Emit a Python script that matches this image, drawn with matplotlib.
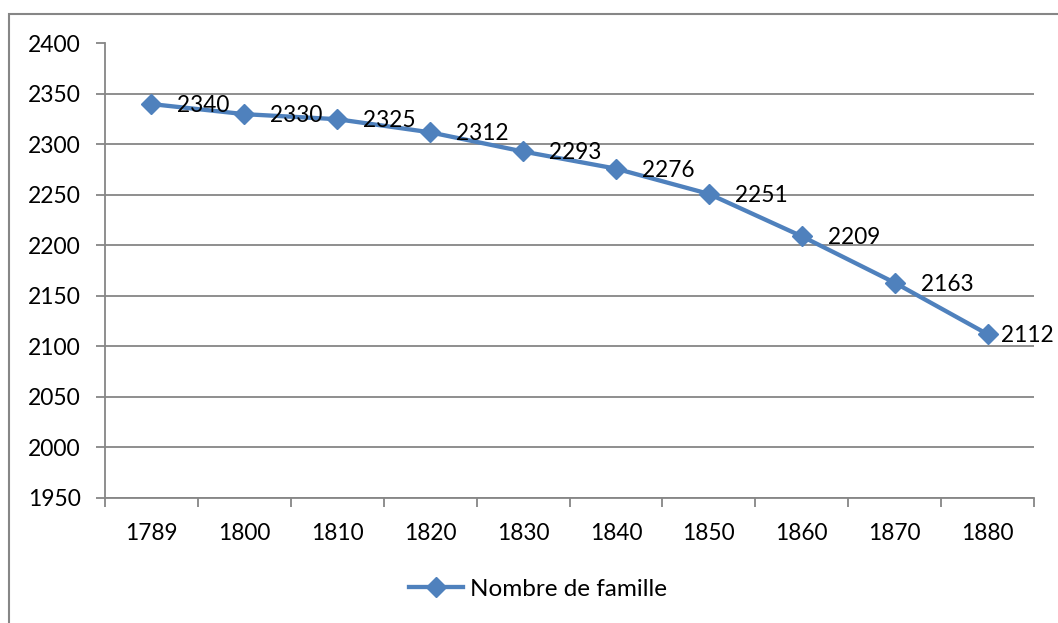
import matplotlib
matplotlib.use("Agg")
import matplotlib.pyplot as plt
from matplotlib.patches import Rectangle
from matplotlib.lines import Line2D
import numpy as np

categories = ["1789", "1800", "1810", "1820", "1830", "1840", "1850", "1860", "1870", "1880"]
values = [2340, 2330, 2325, 2312, 2293, 2276, 2251, 2209, 2163, 2112]
series_name = "Nombre de famille"
y_ticks = [1950, 2000, 2050, 2100, 2150, 2200, 2250, 2300, 2350, 2400]

plt.rcParams['font.family'] = ['Lato', 'DejaVu Sans']
BLUE = "#4F81BD"
GRID = "#868686"

W, H = 1058, 623
fig = plt.figure(figsize=(W / 100, H / 100), dpi=100)
ax = fig.add_axes([105 / W, 1 - 497.7 / H, (1034 - 105) / W, (497.7 - 43.5) / H])

x = np.arange(len(categories))
ax.plot(x, values, color=BLUE, lw=3.1, marker="D", markersize=10,
        markerfacecolor=BLUE, markeredgecolor=BLUE, zorder=3, solid_capstyle="round")

for i, v in enumerate(values):
    off = 18.7 if i < len(values) - 1 else 10
    ax.annotate(str(v), (x[i], v), xytext=(off, -1), textcoords="offset points",
                ha="left", va="center", fontsize=16.3, color="black", zorder=4)

ax.set_xlim(-0.5, len(categories) - 0.5)
ax.set_ylim(y_ticks[0], y_ticks[-1])
ax.set_yticks(y_ticks)
ax.set_yticklabels([str(t) for t in y_ticks])
ax.yaxis.grid(True, color=GRID, lw=1.3)
ax.set_axisbelow(True)

ax.set_xticks(x)
ax.set_xticklabels(categories)
ax.set_xticks(np.arange(-0.5, len(categories)), minor=True)
ax.tick_params(axis="x", which="major", length=0, pad=18, labelsize=16.3)
ax.tick_params(axis="x", which="minor", length=6.5, width=1.3, color=GRID, direction="out")
ax.tick_params(axis="y", length=6.5, width=1.3, color=GRID, pad=11, labelsize=16.5)

for s in ["top", "right"]:
    ax.spines[s].set_visible(False)
for s in ["left", "bottom"]:
    ax.spines[s].set_color(GRID)
    ax.spines[s].set_linewidth(1.3)

# outer chart border
fig.patches.append(Rectangle((9 / W, -0.1), 1.2, 1 - 14 / H + 0.1, transform=fig.transFigure,
                             fill=False, edgecolor=GRID, lw=1.5, zorder=0))

handle = Line2D([], [], color=BLUE, lw=3.1, marker="D", markersize=10,
                markerfacecolor=BLUE, markeredgecolor=BLUE)
fig.legend([handle], [series_name], loc="center", bbox_to_anchor=(538 / W, 1 - 589 / H),
           frameon=False, fontsize=17.5, handlelength=2.2, handletextpad=0.3)

fig.savefig("out.png", dpi=100)
